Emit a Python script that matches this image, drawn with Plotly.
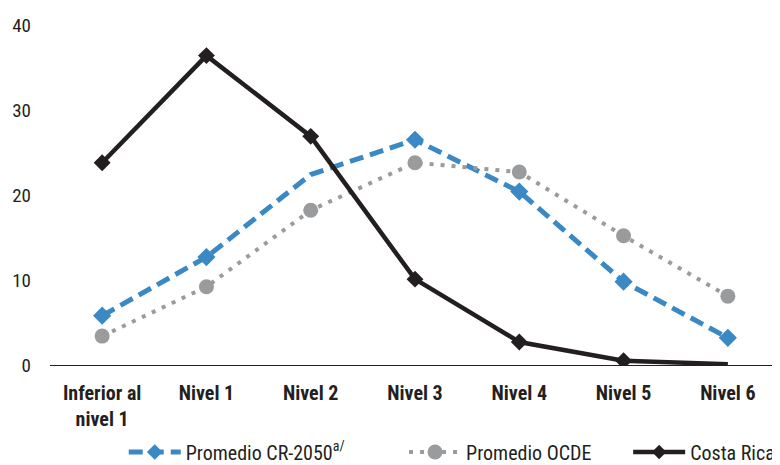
import plotly.graph_objects as go

categorias = ["Inferior al<br>nivel 1", "Nivel 1", "Nivel 2", "Nivel 3", "Nivel 4", "Nivel 5", "Nivel 6"]
cr_2050 = [5.8, 12.7, 22.4, 26.5, 20.4, 9.8, 3.2]
ocde = [3.4, 9.2, 18.2, 23.8, 22.7, 15.2, 8.1]
costa_rica = [23.8, 36.4, 26.9, 10.1, 2.7, 0.5, 0.1]
y_ticks = [0, 10, 20, 30, 40]

FONT = "Liberation Sans Narrow, Arial Narrow, Roboto Condensed, Arial, sans-serif"
INK = "#231f20"

fig = go.Figure()

fig.add_trace(go.Scatter(
    x=categorias, y=cr_2050, name="Promedio CR-2050<sup>a/</sup>",
    mode="lines+markers", legend="legend",
    line=dict(color="#3a88c4", width=5, dash="14px,7px"),
    marker=dict(symbol="diamond", size=[14, 14, 0, 14, 14, 14, 14], color="#3a88c4", opacity=1,
                line=dict(width=0)),
))
fig.add_trace(go.Scatter(
    x=categorias, y=ocde, name="Promedio OCDE",
    mode="lines+markers", legend="legend2",
    line=dict(color="#9a9b9d", width=4, dash="4px,7px"),
    marker=dict(symbol="circle", size=15, color="#9a9b9d", opacity=1),
))
fig.add_trace(go.Scatter(
    x=categorias, y=costa_rica, name="Costa Rica",
    mode="lines+markers", legend="legend3",
    line=dict(color=INK, width=4.5),
    marker=dict(symbol="diamond", size=[13, 13, 13, 13, 13, 13, 0], color=INK, opacity=1,
                line=dict(width=0)),
))

leg = dict(orientation="h", yanchor="middle", y=-0.256, xanchor="left",
           font=dict(family=FONT, size=20, color=INK), itemwidth=52,
           bgcolor="rgba(0,0,0,0)")

# the page body has an 8px margin, so the figure is 8px smaller than the window
fig.update_layout(
    width=772, height=457,
    margin=dict(l=42, r=0, t=17, b=100, autoexpand=False),
    plot_bgcolor="white", paper_bgcolor="white",
    font=dict(family=FONT, size=20, color=INK),
    showlegend=True,
    legend=dict(leg, x=0.101),
    legend2=dict(leg, x=0.485),
    legend3=dict(leg, x=0.792),
)
fig.update_xaxes(
    range=[-0.5, 6.5], showgrid=False, showline=False, ticks="",
    tickfont=dict(family=FONT, size=20, color=INK, weight="bold"),
    ticklabelstandoff=14, zeroline=False,
)
fig.update_yaxes(
    range=[0, 40], tickvals=y_ticks, showgrid=False, showline=False,
    zeroline=True, zerolinecolor=INK, zerolinewidth=1.2,
    ticks="", ticklabelstandoff=18,
    tickfont=dict(family=FONT, size=19, color=INK),
)

fig.write_html("out.html")
